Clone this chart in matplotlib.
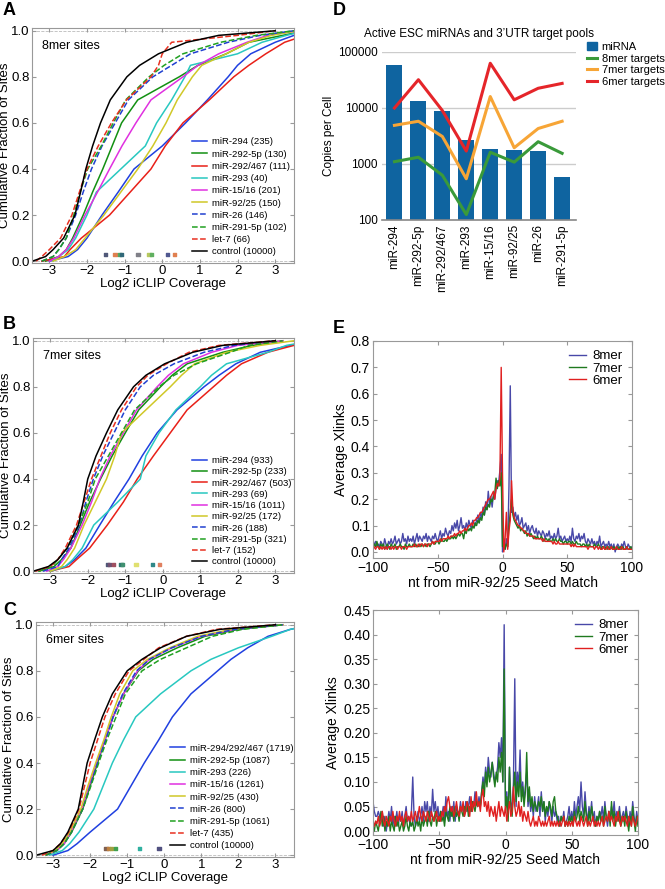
import numpy as np
import matplotlib
matplotlib.use("Agg")
import matplotlib.pyplot as plt
from matplotlib.lines import Line2D
from matplotlib.patches import Patch
from matplotlib.ticker import FormatStrFormatter, FixedLocator, NullLocator

plt.rcParams['font.family'] = ['Liberation Sans', 'DejaVu Sans']

# ---------------- cumulative curves (A-C) ----------------
# x position (log2 coverage) where each curve reaches these cumulative fractions
levels = [0.0, 0.02, 0.05, 0.1, 0.2, 0.3, 0.4, 0.5, 0.6, 0.7, 0.8, 0.85, 0.9, 0.95, 0.98, 1.0]

names_8mer = ['miR-294', 'miR-292-5p', 'miR-292/467', 'miR-293', 'miR-15/16',
              'miR-92/25', 'miR-26', 'miR-291-5p', 'let-7', 'control']
counts_8mer = [235, 130, 111, 40, 201, 150, 146, 102, 66, 10000]
q_8mer = [
    [-3.0, -2.5, -2.25, -2.0, -1.6, -1.17, -0.75, 0.0, 0.62, 1.2, 1.75, 2.0, 2.35, 3.0, 3.5, 3.9],
    [-3.1, -2.75, -2.55, -2.38, -2.1, -1.85, -1.58, -1.33, -1.08, -0.65, 0.45, 0.95, 1.7, 2.3, 3.2, 3.8],
    [-3.2, -2.6, -2.45, -2.15, -1.4, -0.85, -0.3, 0.08, 0.55, 1.25, 1.9, 2.3, 2.75, 3.25, 3.8, 4.2],
    [-2.9, -2.75, -2.5, -2.3, -2.0, -1.75, -1.1, -0.45, -0.15, 0.25, 0.6, 0.75, 2.0, 2.65, 3.3, 3.8],
    [-3.0, -2.75, -2.55, -2.35, -2.05, -1.72, -1.4, -1.07, -0.7, -0.3, 0.55, 0.95, 1.5, 2.25, 2.8, 3.6],
    [-2.9, -2.6, -2.3, -2.05, -1.55, -1.1, -0.65, -0.25, 0.1, 0.4, 0.8, 1.05, 1.7, 2.3, 2.9, 3.6],
    [-3.2, -2.9, -2.75, -2.55, -2.3, -2.1, -1.88, -1.6, -1.25, -0.9, -0.25, 0.25, 0.75, 1.75, 2.6, 3.5],
    [-3.2, -2.9, -2.75, -2.55, -2.35, -2.18, -1.98, -1.62, -1.3, -0.97, -0.35, 0.05, 0.55, 1.55, 2.5, 3.5],
    [-3.35, -3.2, -3.0, -2.7, -2.4, -2.2, -2.0, -1.7, -1.35, -0.95, -0.3, -0.1, 0.0, 0.25, 2.0, 3.0],
    [-3.45, -3.1, -2.9, -2.62, -2.32, -2.17, -2.03, -1.85, -1.64, -1.38, -0.94, -0.6, -0.1, 0.65, 1.5, 3.0],
]
dots_8mer = [-1.51, -1.26, -1.14, -1.08, -0.64, -0.35, -0.28, 0.14, 0.32]
dotcol_8mer = ['#505878', '#e08050', '#50a860', '#306878', '#808088', '#b8c860', '#60b060', '#505890', '#e08050']

names_7mer = names_8mer
counts_7mer = [933, 233, 503, 69, 1011, 172, 188, 321, 152, 10000]
q_7mer = [
    [-3.0, -2.6, -2.35, -2.05, -1.68, -1.3, -0.9, -0.55, -0.15, 0.38, 1.1, 1.5, 1.95, 2.6, 3.4, 4.0],
    [-3.3, -2.9, -2.7, -2.45, -2.2, -1.95, -1.66, -1.35, -1.0, -0.64, -0.06, 0.25, 0.65, 1.6, 2.4, 3.2],
    [-3.0, -2.5, -2.3, -1.95, -1.48, -1.05, -0.68, -0.25, 0.2, 0.65, 1.35, 1.7, 2.1, 2.8, 3.5, 4.0],
    [-3.0, -2.6, -2.4, -2.15, -1.84, -1.2, -0.6, -0.45, -0.1, 0.35, 1.0, 1.3, 1.7, 2.8, 3.3, 4.0],
    [-3.1, -2.8, -2.65, -2.45, -2.15, -1.9, -1.68, -1.4, -1.05, -0.7, -0.15, 0.15, 0.55, 1.3, 2.0, 3.2],
    [-3.0, -2.7, -2.55, -2.35, -2.1, -1.8, -1.5, -1.28, -1.1, -0.45, 0.2, 0.5, 0.85, 1.7, 2.6, 3.5],
    [-3.2, -2.8, -2.7, -2.5, -2.22, -2.05, -1.85, -1.6, -1.3, -1.0, -0.6, -0.25, 0.3, 1.1, 1.9, 3.0],
    [-3.3, -2.95, -2.8, -2.55, -2.25, -2.0, -1.8, -1.45, -1.1, -0.75, -0.1, 0.3, 0.9, 1.8, 2.3, 3.2],
    [-3.4, -3.0, -2.8, -2.6, -2.3, -2.1, -1.9, -1.65, -1.4, -1.1, -0.7, -0.4, 0.1, 0.7, 1.5, 3.0],
    [-3.45, -3.05, -2.8, -2.55, -2.25, -2.12, -2.0, -1.78, -1.5, -1.2, -0.78, -0.45, 0.05, 0.8, 1.6, 3.0],
]
dots_7mer = [-1.48, -1.42, -1.32, -1.11, -1.07, -0.71, -0.27, -0.09]
dotcol_7mer = ['#505878', '#705070', '#a05060', '#307870', '#409070', '#e0e070', '#308888', '#e08060']

names_6mer = ['miR-294/292/467', 'miR-292-5p', 'miR-293', 'miR-15/16', 'miR-92/25',
              'miR-26', 'miR-291-5p', 'let-7', 'control']
counts_6mer = [1719, 1087, 226, 1261, 430, 800, 1061, 435, 10000]
q_6mer = [
    [-3.0, -2.6, -2.35, -2.0, -1.26, -0.9, -0.54, -0.15, 0.22, 0.72, 1.44, 1.8, 2.25, 2.8, 3.4, 4.0],
    [-3.2, -2.9, -2.7, -2.5, -2.2, -2.0, -1.8, -1.6, -1.38, -1.1, -0.7, -0.3, 0.35, 1.1, 2.0, 3.2],
    [-3.1, -2.75, -2.55, -2.3, -1.9, -1.65, -1.4, -1.1, -0.77, -0.1, 0.72, 1.26, 2.0, 2.9, 3.4, 4.0],
    [-3.2, -2.9, -2.7, -2.52, -2.22, -2.03, -1.83, -1.6, -1.38, -1.1, -0.72, -0.4, 0.2, 1.0, 1.9, 3.2],
    [-3.2, -2.95, -2.75, -2.55, -2.25, -2.06, -1.85, -1.63, -1.43, -1.2, -0.85, -0.45, 0.15, 0.9, 1.8, 3.2],
    [-3.2, -2.9, -2.7, -2.5, -2.2, -2.0, -1.8, -1.58, -1.38, -1.12, -0.75, -0.4, 0.2, 1.0, 1.9, 3.2],
    [-3.2, -2.9, -2.7, -2.5, -2.2, -1.98, -1.77, -1.55, -1.3, -1.05, -0.6, -0.1, 0.6, 1.3, 2.1, 3.2],
    [-3.3, -3.0, -2.8, -2.58, -2.3, -2.15, -2.0, -1.8, -1.6, -1.32, -0.95, -0.55, -0.15, 0.6, 1.4, 3.0],
    [-3.45, -3.0, -2.8, -2.6, -2.32, -2.2, -2.08, -1.88, -1.67, -1.4, -1.0, -0.6, -0.1, 0.6, 1.5, 3.0],
]
dots_6mer = [-1.57, -1.5, -1.43, -1.32, -0.67, -0.14]
dotcol_6mer = ['#806050', '#c08040', '#a0a040', '#40a050', '#30b0a0', '#505080']

line_style = {
    'miR-294': ('#2040e0', '-'), 'miR-294/292/467': ('#2040e0', '-'),
    'miR-292-5p': ('#129012', '-'), 'miR-292/467': ('#e82018', '-'),
    'miR-293': ('#28c8c0', '-'), 'miR-15/16': ('#e030e0', '-'),
    'miR-92/25': ('#d0c828', '-'), 'miR-26': ('#2040d0', '--'),
    'miR-291-5p': ('#20a020', '--'), 'let-7': ('#e83020', '--'),
    'control': ('#000000', '-'),
}

# ---------------- panel D ----------------
mirnas_d = ['miR-294', 'miR-292-5p', 'miR-292/467', 'miR-293', 'miR-15/16', 'miR-92/25', 'miR-26', 'miR-291-5p']
copies_mirna = [58000, 13400, 8800, 2650, 1850, 1750, 1730, 585]
targets_8mer = [1100, 1320, 630, 125, 1620, 1080, 2500, 1550]
targets_7mer = [4900, 5800, 3100, 545, 16000, 1950, 4300, 5800]
targets_6mer = [10000, 32000, 9000, 1700, 63000, 14000, 22500, 27500]

# ---------------- panel E ----------------
nt = np.arange(-100, 101)
top_8mer = [
    0.02, 0.03, 0.04, 0.02, 0.03, 0.02, 0.04, 0.03, 0.02, 0.05,
    0.03, 0.01, 0.04, 0.03, 0.05, 0.03, 0.04, 0.06, 0.03, 0.04,
    0.05, 0.03, 0.04, 0.07, 0.04, 0.05, 0.03, 0.06, 0.04, 0.05,
    0.04, 0.06, 0.03, 0.05, 0.07, 0.04, 0.06, 0.05, 0.04, 0.06,
    0.05, 0.07, 0.04, 0.06, 0.05, 0.04, 0.06, 0.05, 0.07, 0.05,
    0.04, 0.06, 0.08, 0.05, 0.07, 0.06, 0.09, 0.07, 0.06, 0.08,
    0.07, 0.10, 0.08, 0.11, 0.09, 0.12, 0.08, 0.10, 0.13, 0.09,
    0.10, 0.08, 0.11, 0.09, 0.12, 0.10, 0.09, 0.12, 0.11, 0.10,
    0.12, 0.14, 0.11, 0.15, 0.13, 0.17, 0.14, 0.19, 0.16, 0.23,
    0.18, 0.21, 0.17, 0.22, 0.20, 0.24, 0.27, 0.26, 0.31, 0.37,
    0.00, 0.02, 0.01, 0.05, 0.02, 0.25, 0.63, 0.15, 0.17, 0.13,
    0.15, 0.12, 0.14, 0.10, 0.11, 0.13, 0.09, 0.10, 0.11, 0.08,
    0.10, 0.07, 0.09, 0.10, 0.08, 0.07, 0.09, 0.06, 0.08, 0.07,
    0.06, 0.08, 0.07, 0.05, 0.07, 0.06, 0.08, 0.05, 0.06, 0.05,
    0.07, 0.05, 0.06, 0.09, 0.05, 0.06, 0.04, 0.05, 0.06, 0.04,
    0.05, 0.04, 0.06, 0.04, 0.09, 0.05, 0.04, 0.06, 0.05, 0.07,
    0.04, 0.06, 0.05, 0.07, 0.04, 0.03, 0.05, 0.04, 0.03, 0.05,
    0.03, 0.04, 0.02, 0.04, 0.03, 0.06, 0.02, 0.03, 0.04, 0.02,
    0.03, 0.02, 0.04, 0.02, 0.03, 0.01, 0.03, 0.00, 0.02, 0.03,
    0.02, 0.01, 0.03, 0.02, 0.04, 0.02, 0.01, 0.03, 0.02, 0.01, 0.02,
]
top_7mer = [
    0.02, 0.03, 0.02, 0.04, 0.02, 0.01, 0.03, 0.02, 0.03, 0.01,
    0.02, 0.03, 0.02, 0.01, 0.03, 0.02, 0.02, 0.03, 0.01, 0.02,
    0.02, 0.03, 0.02, 0.02, 0.01, 0.03, 0.02, 0.02, 0.03, 0.02,
    0.02, 0.03, 0.02, 0.03, 0.02, 0.02, 0.03, 0.02, 0.03, 0.02,
    0.03, 0.02, 0.03, 0.03, 0.02, 0.03, 0.04, 0.03, 0.03, 0.04,
    0.04, 0.03, 0.04, 0.05, 0.04, 0.04, 0.05, 0.04, 0.05, 0.05,
    0.05, 0.06, 0.05, 0.06, 0.05, 0.06, 0.07, 0.06, 0.07, 0.07,
    0.05, 0.08, 0.07, 0.09, 0.08, 0.09, 0.08, 0.10, 0.09, 0.11,
    0.10, 0.12, 0.11, 0.13, 0.12, 0.15, 0.14, 0.17, 0.16, 0.18,
    0.17, 0.20, 0.19, 0.21, 0.22, 0.28, 0.24, 0.27, 0.25, 0.30,
    0.02, 0.05, 0.01, 0.03, 0.02, 0.10, 0.15, 0.20, 0.14, 0.12,
    0.11, 0.10, 0.09, 0.10, 0.08, 0.09, 0.08, 0.07, 0.08, 0.06,
    0.07, 0.06, 0.07, 0.06, 0.05, 0.06, 0.05, 0.06, 0.05, 0.05,
    0.06, 0.05, 0.04, 0.05, 0.05, 0.04, 0.05, 0.04, 0.04, 0.05,
    0.04, 0.05, 0.04, 0.04, 0.05, 0.04, 0.04, 0.03, 0.04, 0.04,
    0.03, 0.04, 0.04, 0.03, 0.04, 0.03, 0.03, 0.04, 0.03, 0.03,
    0.03, 0.02, 0.03, 0.03, 0.02, 0.03, 0.02, 0.03, 0.02, 0.02,
    0.02, 0.03, 0.02, 0.02, 0.03, 0.02, 0.01, 0.02, 0.02, 0.01,
    0.02, 0.01, 0.02, 0.01, 0.02, 0.01, 0.02, 0.01, 0.01, 0.02,
    0.01, 0.02, 0.01, 0.02, 0.01, 0.01, 0.02, 0.01, 0.01, 0.02, 0.01,
]
top_6mer = [
    0.01, 0.02, 0.01, 0.02, 0.02, 0.01, 0.02, 0.01, 0.02, 0.01,
    0.02, 0.01, 0.02, 0.02, 0.01, 0.02, 0.01, 0.02, 0.02, 0.01,
    0.02, 0.02, 0.01, 0.02, 0.02, 0.02, 0.01, 0.02, 0.02, 0.02,
    0.02, 0.02, 0.03, 0.02, 0.02, 0.03, 0.02, 0.03, 0.03, 0.02,
    0.03, 0.03, 0.02, 0.03, 0.03, 0.03, 0.04, 0.03, 0.04, 0.04,
    0.04, 0.04, 0.05, 0.04, 0.05, 0.05, 0.05, 0.05, 0.06, 0.05,
    0.06, 0.06, 0.06, 0.07, 0.06, 0.07, 0.07, 0.08, 0.07, 0.08,
    0.08, 0.09, 0.08, 0.09, 0.10, 0.10, 0.11, 0.10, 0.12, 0.12,
    0.13, 0.13, 0.14, 0.15, 0.15, 0.16, 0.17, 0.18, 0.19, 0.20,
    0.20, 0.21, 0.22, 0.23, 0.20, 0.24, 0.26, 0.25, 0.28, 0.70,
    0.30, 0.00, 0.05, 0.15, 0.01, 0.08, 0.12, 0.27, 0.16, 0.13,
    0.12, 0.11, 0.10, 0.10, 0.09, 0.09, 0.08, 0.08, 0.07, 0.07,
    0.07, 0.06, 0.06, 0.06, 0.06, 0.05, 0.05, 0.05, 0.05, 0.05,
    0.05, 0.04, 0.05, 0.04, 0.04, 0.04, 0.04, 0.04, 0.04, 0.03,
    0.04, 0.03, 0.03, 0.04, 0.03, 0.03, 0.03, 0.03, 0.03, 0.03,
    0.03, 0.03, 0.03, 0.02, 0.03, 0.02, 0.03, 0.02, 0.02, 0.02,
    0.02, 0.02, 0.02, 0.02, 0.02, 0.02, 0.01, 0.02, 0.02, 0.02,
    0.02, 0.01, 0.02, 0.02, 0.01, 0.02, 0.01, 0.01, 0.02, 0.01,
    0.01, 0.02, 0.01, 0.01, 0.02, 0.01, 0.01, 0.01, 0.02, 0.01,
    0.01, 0.01, 0.02, 0.01, 0.01, 0.01, 0.02, 0.01, 0.01, 0.01, 0.01,
]
bot_8mer = [
    0.06, 0.04, 0.03, 0.03, 0.04, 0.03, 0.02, 0.04, 0.01, 0.03,
    0.00, 0.02, 0.04, 0.02, 0.05, 0.01, 0.03, 0.02, 0.04, 0.01,
    0.03, 0.02, 0.04, 0.01, 0.03, 0.05, 0.02, 0.03, 0.01, 0.04,
    0.11, 0.03, 0.01, 0.02, 0.04, 0.02, 0.03, 0.05, 0.02, 0.06,
    0.04, 0.06, 0.02, 0.05, 0.03, 0.085, 0.04, 0.06, 0.03, 0.05,
    0.02, 0.04, 0.03, 0.05, 0.02, 0.07, 0.03, 0.04, 0.02, 0.05,
    0.03, 0.06, 0.02, 0.05, 0.04, 0.03, 0.06, 0.04, 0.05, 0.03,
    0.06, 0.04, 0.05, 0.07, 0.04, 0.06, 0.05, 0.08, 0.06, 0.05,
    0.07, 0.05, 0.08, 0.11, 0.09, 0.13, 0.10, 0.15, 0.12, 0.11,
    0.14, 0.12, 0.10, 0.11, 0.13, 0.18, 0.15, 0.19, 0.10, 0.42,
    0.05, 0.08, 0.03, 0.13, 0.06, 0.04, 0.10, 0.31, 0.05, 0.12,
    0.09, 0.165, 0.07, 0.10, 0.06, 0.09, 0.12, 0.05, 0.08, 0.04,
    0.06, 0.03, 0.07, 0.04, 0.05, 0.07, 0.03, 0.08, 0.04, 0.06,
    0.02, 0.05, 0.03, 0.06, 0.04, 0.02, 0.05, 0.03, 0.04, 0.02,
    0.03, 0.01, 0.03, 0.02, 0.04, 0.01, 0.02, 0.03, 0.05, 0.02,
    0.04, 0.02, 0.06, 0.03, 0.05, 0.07, 0.04, 0.10, 0.05, 0.03,
    0.08, 0.04, 0.02, 0.05, 0.03, 0.06, 0.02, 0.04, 0.01, 0.03,
    0.02, 0.04, 0.03, 0.05, 0.02, 0.06, 0.03, 0.01, 0.04, 0.02,
    0.05, 0.03, 0.06, 0.02, 0.04, 0.03, 0.05, 0.02, 0.03, 0.04,
    0.02, 0.05, 0.03, 0.01, 0.04, 0.02, 0.06, 0.03, 0.01, 0.04, 0.02,
]
bot_7mer = [
    0.01, 0.00, 0.02, 0.01, 0.00, 0.02, 0.04, 0.01, 0.03, 0.00,
    0.02, 0.01, 0.03, 0.00, 0.02, 0.01, 0.00, 0.03, 0.01, 0.02,
    0.00, 0.01, 0.02, 0.00, 0.01, 0.03, 0.01, 0.00, 0.02, 0.01,
    0.02, 0.00, 0.01, 0.03, 0.01, 0.02, 0.00, 0.03, 0.01, 0.02,
    0.03, 0.01, 0.04, 0.02, 0.01, 0.03, 0.02, 0.04, 0.01, 0.03,
    0.02, 0.04, 0.02, 0.03, 0.01, 0.04, 0.03, 0.02, 0.05, 0.03,
    0.04, 0.02, 0.05, 0.03, 0.04, 0.02, 0.05, 0.04, 0.03, 0.05,
    0.04, 0.06, 0.03, 0.05, 0.04, 0.06, 0.05, 0.04, 0.06, 0.05,
    0.06, 0.05, 0.08, 0.10, 0.07, 0.12, 0.09, 0.13, 0.10, 0.12,
    0.14, 0.11, 0.09, 0.12, 0.10, 0.15, 0.12, 0.16, 0.10, 0.33,
    0.04, 0.07, 0.02, 0.13, 0.05, 0.03, 0.08, 0.12, 0.06, 0.10,
    0.07, 0.12, 0.06, 0.09, 0.05, 0.08, 0.16, 0.06, 0.09, 0.05,
    0.07, 0.04, 0.06, 0.05, 0.04, 0.06, 0.05, 0.07, 0.04, 0.06,
    0.03, 0.05, 0.04, 0.06, 0.05, 0.03, 0.06, 0.07, 0.04, 0.03,
    0.02, 0.01, 0.03, 0.02, 0.03, 0.01, 0.02, 0.01, 0.03, 0.02,
    0.03, 0.01, 0.04, 0.02, 0.03, 0.05, 0.02, 0.04, 0.03, 0.02,
    0.06, 0.03, 0.01, 0.04, 0.02, 0.05, 0.03, 0.02, 0.01, 0.03,
    0.02, 0.04, 0.02, 0.03, 0.01, 0.05, 0.03, 0.02, 0.04, 0.01,
    0.06, 0.02, 0.04, 0.01, 0.03, 0.02, 0.04, 0.01, 0.02, 0.03,
    0.01, 0.04, 0.02, 0.00, 0.03, 0.01, 0.05, 0.02, 0.00, 0.03, 0.01,
]
bot_6mer = [
    0.02, 0.01, 0.02, 0.015, 0.03, 0.01, 0.02, 0.04, 0.02, 0.01,
    0.03, 0.02, 0.01, 0.03, 0.02, 0.04, 0.02, 0.01, 0.03, 0.02,
    0.04, 0.02, 0.03, 0.01, 0.03, 0.04, 0.02, 0.03, 0.02, 0.04,
    0.02, 0.03, 0.04, 0.02, 0.03, 0.05, 0.03, 0.02, 0.04, 0.03,
    0.02, 0.04, 0.03, 0.02, 0.04, 0.03, 0.02, 0.03, 0.04, 0.02,
    0.03, 0.02, 0.04, 0.03, 0.05, 0.04, 0.06, 0.07, 0.05, 0.04,
    0.05, 0.03, 0.04, 0.06, 0.04, 0.03, 0.05, 0.04, 0.06, 0.03,
    0.04, 0.06, 0.05, 0.03, 0.07, 0.04, 0.06, 0.05, 0.08, 0.05,
    0.06, 0.04, 0.07, 0.085, 0.05, 0.06, 0.04, 0.06, 0.03, 0.05,
    0.04, 0.03, 0.05, 0.02, 0.04, 0.06, 0.03, 0.05, 0.04, 0.03,
    0.05, 0.02, 0.04, 0.06, 0.03, 0.04, 0.09, 0.05, 0.03, 0.04,
    0.06, 0.03, 0.05, 0.02, 0.04, 0.03, 0.02, 0.04, 0.02, 0.01,
    0.02, 0.03, 0.01, 0.02, 0.01, 0.03, 0.02, 0.01, 0.02, 0.01,
    0.02, 0.01, 0.02, 0.03, 0.01, 0.02, 0.01, 0.02, 0.01, 0.02,
    0.01, 0.02, 0.01, 0.02, 0.03, 0.01, 0.02, 0.01, 0.02, 0.01,
    0.02, 0.01, 0.03, 0.02, 0.01, 0.02, 0.01, 0.03, 0.02, 0.01,
    0.02, 0.03, 0.01, 0.02, 0.01, 0.02, 0.03, 0.01, 0.02, 0.01,
    0.02, 0.01, 0.02, 0.03, 0.01, 0.02, 0.03, 0.02, 0.04, 0.02,
    0.03, 0.02, 0.01, 0.03, 0.02, 0.04, 0.02, 0.01, 0.03, 0.02,
    0.03, 0.02, 0.01, 0.03, 0.02, 0.01, 0.03, 0.02, 0.01, 0.02, 0.03,
]

fig = plt.figure(figsize=(6.65, 8.89), dpi=100)
W, H = 665.0, 889.0


def box(l, t, r, b):
    return [l / W, 1 - b / H, (r - l) / W, (b - t) / H]


def cdf_panel(rect, names, counts, qs, dots, dotcols, title, leg_x, leg_sp):
    ax = fig.add_axes(rect)
    for name, n, q in zip(names, counts, qs):
        c, ls = line_style[name]
        ax.plot(q, levels, color=c, ls=ls, lw=1.1, label=f'{name} ({n})')
    ax.axhline(1.0, color='#bbbbbb', ls='--', lw=0.6, zorder=0)
    ax.axhline(0.0, color='#bbbbbb', ls='--', lw=0.6, zorder=0)
    ax.scatter(dots, [0.03] * len(dots), c=dotcols, marker='s', s=6, zorder=5)
    ax.set_xlim(-3.46, 3.5)
    ax.set_ylim(-0.008, 1.012)
    ax.set_xticks([-3, -2, -1, 0, 1, 2, 3])
    ax.set_yticks([0, 0.2, 0.4, 0.6, 0.8, 1.0])
    ax.yaxis.set_major_formatter(FormatStrFormatter('%.1f'))
    ax.tick_params(direction='in', top=True, right=True, labelsize=9.5, length=3,
                   color='#999999', pad=1.5)
    for s in ax.spines.values():
        s.set_color('#999999')
    ax.set_ylabel('Cumulative Fraction of Sites', fontsize=9.5, labelpad=0)
    ax.set_xlabel('Log2 iCLIP Coverage', fontsize=9.5, labelpad=1)
    ax.text(0.04, 0.95, title, transform=ax.transAxes, fontsize=9, va='top')
    ax.legend(loc='lower left', bbox_to_anchor=(leg_x, 0.0), frameon=False, fontsize=6.8,
              handlelength=1.6, handletextpad=0.5, labelspacing=leg_sp, borderaxespad=0.3)
    return ax


cdf_panel(box(32, 28, 294, 263), names_8mer, counts_8mer, q_8mer, dots_8mer, dotcol_8mer,
          '8mer sites', 0.585, 0.34)
cdf_panel(box(33, 338, 294, 573), names_7mer, counts_7mer, q_7mer, dots_7mer, dotcol_7mer,
          '7mer sites', 0.585, 0.24)
cdf_panel(box(36, 622, 294, 857), names_6mer, counts_6mer, q_6mer, dots_6mer, dotcol_6mer,
          '6mer sites', 0.494, 0.34)

# ---- D ----
axd = fig.add_axes(box(382, 52, 576, 220))
xd = np.arange(len(mirnas_d))
axd.bar(xd, copies_mirna, width=0.67, color='#0f64a0', zorder=2, label='miRNA')
axd.plot(xd, targets_8mer, color='#3a9a3a', lw=2.2, zorder=3, label='8mer targets')
axd.plot(xd, targets_7mer, color='#f7a536', lw=2.2, zorder=3, label='7mer targets')
axd.plot(xd, targets_6mer, color='#e5252a', lw=2.2, zorder=3, label='6mer targets')
axd.set_yscale('log')
axd.set_ylim(100, 100000)
axd.set_xlim(-0.52, 7.58)
axd.yaxis.set_major_locator(FixedLocator([100, 1000, 10000, 100000]))
axd.yaxis.set_minor_locator(NullLocator())
axd.set_yticklabels(['100', '1000', '10000', '100000'])
axd.set_xticks(xd)
axd.set_xticklabels(mirnas_d, rotation=90)
axd.tick_params(length=0, labelsize=8.5, pad=3)
axd.grid(axis='y', color='#cccccc', lw=1, zorder=0)
for s in ['left', 'right', 'top']:
    axd.spines[s].set_visible(False)
axd.spines['bottom'].set_color('#888888')
axd.spines['bottom'].set_linewidth(1.2)
axd.set_ylabel('Copies per Cell', fontsize=8.5, labelpad=2)
axd.set_title('Active ESC miRNAs and 3\u2019UTR target pools', fontsize=8.5, pad=11)
hd = [Patch(color='#0f64a0', label='miRNA'),
      Line2D([], [], color='#3a9a3a', lw=2.2, label='8mer targets'),
      Line2D([], [], color='#f7a536', lw=2.2, label='7mer targets'),
      Line2D([], [], color='#e5252a', lw=2.2, label='6mer targets')]
axd.legend(handles=hd, loc='upper left', bbox_to_anchor=(1.02, 1.1), frameon=False,
           fontsize=8, handlelength=0.9, handletextpad=0.45, labelspacing=0.15,
           borderaxespad=0.2)


# ---- E ----
def xlink_panel(rect, s8, s7, s6, ylim, yticks, fmt):
    ax = fig.add_axes(rect)
    ax.plot(nt, s8, color='#4848a8', lw=1.0, label='8mer')
    ax.plot(nt, s7, color='#1f7a1f', lw=1.0, label='7mer')
    ax.plot(nt, s6, color='#e02020', lw=1.0, label='6mer')
    ax.set_xlim(-100, 100)
    ax.set_ylim(*ylim)
    ax.set_xticks([-100, -50, 0, 50, 100])
    ax.set_yticks(yticks)
    ax.yaxis.set_major_formatter(FormatStrFormatter(fmt))
    ax.tick_params(direction='in', top=True, right=True, labelsize=10, length=3,
                   color='#999999', pad=2)
    for s in ax.spines.values():
        s.set_color('#999999')
    ax.set_ylabel('Average Xlinks', fontsize=10, labelpad=2)
    ax.set_xlabel('nt from miR-92/25 Seed Match', fontsize=10, labelpad=1)
    ax.legend(loc='upper right', frameon=False, fontsize=9.5, handlelength=1.3,
              handletextpad=0.5, labelspacing=0.0, borderaxespad=0.3)
    return ax


xlink_panel(box(373, 341, 632, 558), top_8mer, top_7mer, top_6mer,
            (-0.023, 0.8), np.arange(0, 0.81, 0.1), '%.1f')
xlink_panel(box(373, 610, 638, 835), bot_8mer, bot_7mer, bot_6mer,
            (-0.008, 0.45), np.arange(0, 0.451, 0.05), '%.2f')

for lab, x, y in [('A', 3, 2), ('B', 3, 316), ('C', 3, 602), ('D', 333, 2), ('E', 333, 320)]:
    fig.text(x / W, 1 - y / H, lab, fontsize=13, fontweight='bold', va='top', ha='left')

fig.savefig('out.png', dpi=100)
